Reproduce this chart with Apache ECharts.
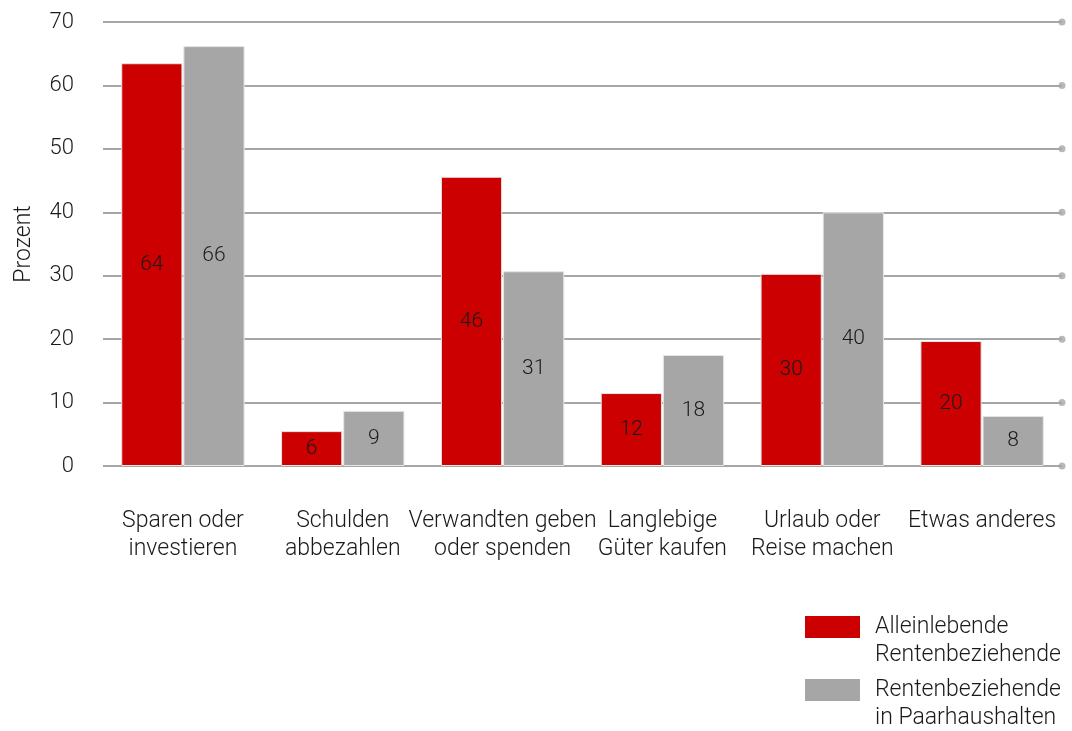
<!DOCTYPE html>
<html><head><meta charset="utf-8">
<script src="https://cdn.jsdelivr.net/npm/echarts@6/dist/echarts.min.js"></script>
<style>html,body{margin:0;padding:0;background:#fff}#c{width:1072px;height:731px}</style>
</head><body><div id="c"></div>
<script>
const categories = ['Sparen oder\ninvestieren','Schulden\nabbezahlen','Verwandten geben\noder spenden','Langlebige\nGüter kaufen','Urlaub oder\nReise machen','Etwas anderes'];
const seriesNames = ['Alleinlebende\nRentenbeziehende','Rentenbeziehende\nin Paarhaushalten'];
const alleinlebend = [63.5, 5.5, 45.6, 11.5, 30.3, 19.7];
const paarhaushalt = [66.2, 8.7, 30.7, 17.5, 40.0, 7.9];
const yTicks = [0, 10, 20, 30, 40, 50, 60, 70];
const font = 'Roboto, "Liberation Sans", sans-serif';
const txt = '#1a1a1a';
const chart = echarts.init(document.getElementById('c'));
const lbl = {show:true, position:'inside', color:txt, fontSize:21, fontFamily:font, fontWeight:300,
  formatter: p => Math.round(p.value)};
const legendText = {fontSize:23, color:txt, fontWeight:300, lineHeight:28, padding:[0,0,0,10]};
const legendFmt = name => '\n' + name;
chart.setOption({
  animation:false,
  textStyle:{fontFamily:font},
  grid:{left:103, right:10, top:22, bottom:265},
  legend:[
    {orient:'vertical', left:800, top:580, itemWidth:55, itemHeight:22, icon:'rect',
      itemStyle:{borderWidth:0}, textStyle:legendText, formatter:legendFmt, data:[seriesNames[0]]},
    {orient:'vertical', left:800, top:643, itemWidth:55, itemHeight:22, icon:'rect',
      itemStyle:{borderWidth:0}, textStyle:legendText, formatter:legendFmt, data:[seriesNames[1]]}
  ],
  xAxis:[{type:'category', data:categories, axisLine:{show:false}, axisTick:{show:false},
    axisLabel:{fontSize:23, color:txt, fontWeight:300, lineHeight:28, margin:41, interval:0}},
    {type:'value', min:0, max:1, show:false}],
  yAxis:{type:'value', min:0, max:70, interval:10, name:'Prozent', nameLocation:'middle', nameGap:67,
    nameTextStyle:{fontSize:23, color:txt, fontWeight:300},
    axisLine:{show:false}, axisTick:{show:false},
    axisLabel:{fontSize:22, color:txt, fontWeight:300, margin:29},
    splitLine:{lineStyle:{color:'#A6A6A6', width:2}}},
  series:[
    {name:seriesNames[0], type:'bar', data:alleinlebend, barWidth:'38.3%', barGap:'1.5%',
      itemStyle:{color:'#CC0000', borderColor:'#e6e6e6', borderWidth:1}, label:lbl},
    {name:seriesNames[1], type:'bar', data:paarhaushalt, barWidth:'38.3%',
      itemStyle:{color:'#A6A6A6', borderColor:'#e6e6e6', borderWidth:1}, label:lbl},
    {type:'scatter', xAxisIndex:1, symbol:'circle', symbolSize:7, silent:true,
      itemStyle:{color:'#A6A6A6'}, data:yTicks.map(t=>[1,t]), z:1}
  ]
});
</script></body></html>
